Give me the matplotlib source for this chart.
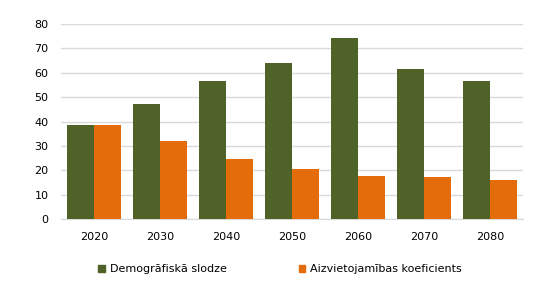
import numpy as np
import matplotlib
matplotlib.use('Agg')
import matplotlib.pyplot as plt
from matplotlib.patches import Patch

years = ['2020', '2030', '2040', '2050', '2060', '2070', '2080']
demografiska_slodze = [38.7, 47.3, 56.8, 63.8, 74.4, 61.7, 56.8]
aizvietojamibas_koef = [38.7, 32.1, 24.7, 20.7, 17.8, 17.3, 16.1]

green = '#4F6228'
orange = '#E46C0A'

plt.rcParams['font.family'] = 'DejaVu Sans'
plt.rcParams['font.size'] = 8

fig = plt.figure(figsize=(5.54, 2.94), dpi=100)
ax = fig.add_axes([61 / 554, 1 - 219 / 294, (523 - 61) / 554, (219 - 24) / 294])

x = np.arange(len(years))
w = 0.41
ax.bar(x - w / 2, demografiska_slodze, width=w, color=green, zorder=3)
ax.bar(x + w / 2, aizvietojamibas_koef, width=w, color=orange, zorder=3)

ax.set_xlim(-0.5, len(years) - 0.5)
ax.set_ylim(0, 80)
ax.set_yticks(range(0, 81, 10))
ax.set_xticks(x)
ax.set_xticklabels(years)
ax.grid(axis='y', color='#D9D9D9', linewidth=1, zorder=0)
for s in ['top', 'right', 'left']:
    ax.spines[s].set_visible(False)
ax.spines['bottom'].set_color('#D9D9D9')
ax.tick_params(length=0, colors='#000000', labelsize=8)
ax.tick_params(axis='y', pad=9)
ax.tick_params(axis='x', pad=9)

handles = [Patch(color=green, label='Demogrāfiskā slodze'),
           Patch(color=orange, label='Aizvietojamības koeficients')]
fig.legend(handles=handles, loc='center', bbox_to_anchor=(280 / 554, 1 - 269 / 294),
           ncol=2, frameon=False, handlelength=0.6, handleheight=0.6,
           handletextpad=0.4, columnspacing=6.5, fontsize=8)

fig.savefig('out.png', dpi=100)
